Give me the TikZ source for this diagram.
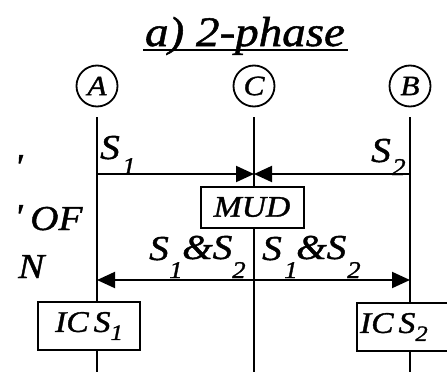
\documentclass[tikz,border=0pt]{standalone}
\usepackage{fontspec}
\setmainfont{Liberation Serif}[FakeStretch=1.12,FakeBold=1.2]
\usetikzlibrary{arrows.meta}
\newcommand{\sbx}[2]{#1\raisebox{-8pt}{\fontsize{22}{22}\selectfont #2}}
\begin{document}
\begin{tikzpicture}[x=1pt,y=-1pt,
  lane/.style={line width=2pt},
  sig/.style={line width=2pt,-{Triangle[length=18pt,width=16pt]}},
  proc/.style={draw,line width=2pt,fill=white,inner sep=0pt,font=\fontsize{30}{30}\selectfont\itshape},
  ent/.style={draw,circle,line width=1.8pt,minimum size=41pt,inner sep=0pt,font=\fontsize{28}{28}\selectfont\itshape},
  big/.style={inner sep=0pt,anchor=base west,font=\fontsize{35}{35}\selectfont\itshape},
  small/.style={inner sep=0pt,anchor=base west,font=\fontsize{24}{24}\selectfont\itshape}]
\useasboundingbox (0,0) rectangle (447,372);
\clip (0,0) rectangle (447,372);
% title
\node (title) [inner sep=0pt,anchor=base,font=\fontsize{42}{42}\selectfont\itshape] at (245,46) {a) 2-phase};
\coordinate (ul1) at (143,50);
\coordinate (ul2) at (348,50);
\draw[line width=1.8pt] (ul1) -- (ul2);
% entities
\node[ent] (A) at (97,86) {A};
\node[ent] (C) at (254,86) {C};
\node[ent] (B) at (410,86) {B};
% lanes
\coordinate (At) at (97,117);  \coordinate (Ab) at (97,372);
\coordinate (Ct) at (254,117); \coordinate (Cb) at (254,372);
\coordinate (Bt) at (410,117); \coordinate (Bb) at (410,372);
\draw[lane] (At) -- (Ab);
\draw[lane] (Ct) -- (Cb);
\draw[lane] (Bt) -- (Bb);
% first phase
\coordinate (a1) at (97,174);
\coordinate (c1) at (254,174);
\coordinate (b1) at (410,174);
\draw[sig] (a1) -- (c1);
\draw[sig] (b1) -- (c1);
\node[big] (s1) at (100,159) {S};
\node[small] (s1i) at (122,174) {1};
\node[big] (s2) at (371,162) {S};
\node[small] (s2i) at (392,175) {2};
\node[proc,minimum width=103pt,minimum height=41pt] (mud) at (252,207) {MUD};
% second phase
\coordinate (a2) at (97,280);
\coordinate (c2) at (254,280);
\coordinate (b2) at (410,280);
\draw[sig] (c2) -- (a2);
\draw[sig] (c2) -- (b2);
\node[big] (l1) at (149,260) {S};
\node[small] (l1i) at (169,278) {1};
\node[big] (l1a) at (182,259) {\&S};
\node[small] (l1j) at (232,278) {2};
\node[big] (r1) at (262,260) {S};
\node[small] (r1i) at (284,278) {1};
\node[big] (r1a) at (296,259) {\&S};
\node[small] (r1j) at (347,278) {2};
% interference cancellation
\node[proc,minimum width=102pt,minimum height=48pt] (ics1) at (89,326) {\sbx{IC\,S}{1}};
\node[proc,minimum width=98pt,minimum height=48pt,text width=92pt,align=left] (ics2) at (406,327) {\sbx{IC\,S}{2}};
% clipped text of the neighbouring column
\node[big] (q1) at (14,178) {\textquotesingle};
\node[big] (q2) at (14,228) {\textquotesingle};
\node[big] (of) at (30,230) {OF};
\node[big] (nn) at (18,278) {N};
\end{tikzpicture}
\end{document}
